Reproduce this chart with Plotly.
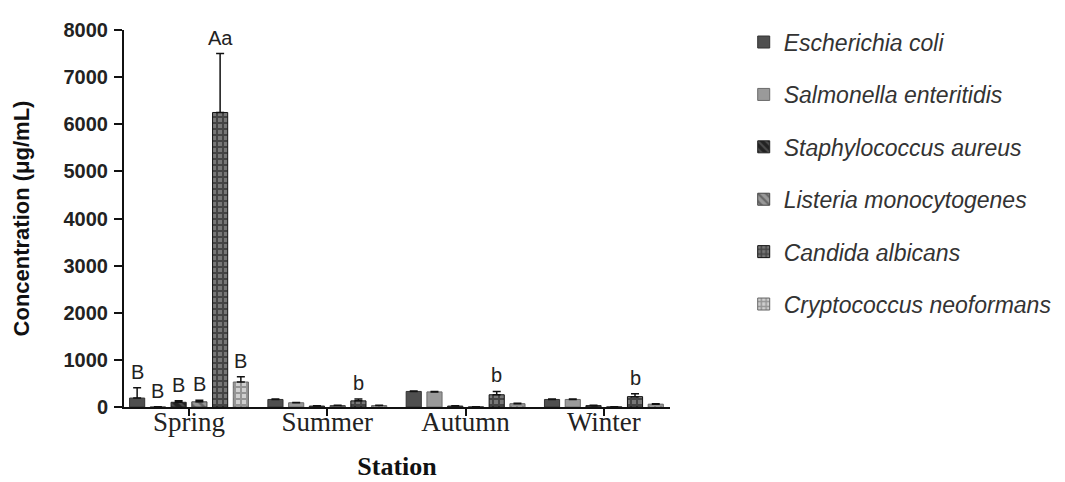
import plotly.graph_objects as go

stations = ["Spring", "Summer", "Autumn", "Winter"]
species = ["Escherichia coli", "Salmonella enteritidis", "Staphylococcus aureus",
           "Listeria monocytogenes", "Candida albicans", "Cryptococcus neoformans"]

ecoli = [190, 160, 330, 160]
salmonella = [5, 90, 320, 160]
staph = [100, 20, 20, 30]
listeria = [110, 30, 5, 5]
candida = [6250, 130, 260, 220]
crypto = [530, 30, 70, 60]

ecoli_err = [220, 10, 10, 10]
salmonella_err = [0, 5, 10, 10]
staph_err = [30, 5, 5, 5]
listeria_err = [35, 5, 0, 0]
candida_err = [1250, 40, 70, 60]
crypto_err = [110, 5, 10, 10]

labels = {
    "Escherichia coli": ["B", "", "", ""],
    "Salmonella enteritidis": ["B", "", "", ""],
    "Staphylococcus aureus": ["B", "", "", ""],
    "Listeria monocytogenes": ["B", "", "", ""],
    "Candida albicans": ["Aa", "b", "b", "b"],
    "Cryptococcus neoformans": ["B", "", "", ""],
}

values = [ecoli, salmonella, staph, listeria, candida, crypto]
errors = [ecoli_err, salmonella_err, staph_err, listeria_err, candida_err, crypto_err]

styles = [
    dict(color="#4f4f4f", line="#333333", pattern=None),
    dict(color="#9a9a9a", line="#6a6a6a", pattern=None),
    dict(color="#222222", line="#222222", pattern=dict(shape="\\", bgcolor="#222222", fgcolor="#777777", size=7, solidity=0.35)),
    dict(color="#555555", line="#444444", pattern=dict(shape="\\", bgcolor="#999999", fgcolor="#333333", size=7, solidity=0.4)),
    dict(color="#111111", line="#111111", pattern=dict(shape="+", bgcolor="#777777", fgcolor="#111111", size=6, solidity=0.55)),
    dict(color="#888888", line="#666666", pattern=dict(shape="+", bgcolor="#d0d0d0", fgcolor="#5a5a5a", size=6, solidity=0.55)),
]

bargap = 0.1
n = len(species)
xs = list(range(len(stations)))

fig = go.Figure()
for j, (name, vals, errs, st) in enumerate(zip(species, values, errors, styles)):
    marker = dict(color=st["color"], line=dict(color=st["line"], width=1))
    if st["pattern"]:
        marker["pattern"] = st["pattern"]
    fig.add_trace(go.Bar(
        x=xs, y=vals, name=name, legendgroup=name, marker=marker,
        error_y=dict(type="data", array=errs, arrayminus=[0] * len(errs),
                     symmetric=False, color="#111111", thickness=1.5, width=4),
    ))
    off = (j - (n - 1) / 2) * (1 - bargap) / n
    for i, lab in enumerate(labels[name]):
        if lab:
            fig.add_annotation(x=xs[i] + off, y=vals[i] + errs[i], text=lab,
                               xref="x", yref="y", showarrow=False,
                               yanchor="bottom", yshift=3,
                               font=dict(family="Liberation Sans, Arial", size=20, color="#222222"))

fig.update_layout(
    width=1065, height=482,
    margin=dict(l=116, r=403, t=22, b=83, autoexpand=False),
    paper_bgcolor="white", plot_bgcolor="white",
    barmode="group", bargap=bargap, bargroupgap=0.27,
    showlegend=True,
    legend=dict(x=1.135, y=1.025, xanchor="left", yanchor="top", maxheight=470,
                font=dict(family="Liberation Sans, Arial", size=23, color="#333333", style="italic"),
                traceorder="grouped", tracegroupgap=19.5, bgcolor="rgba(0,0,0,0)"),
    xaxis=dict(
        tickmode="array", tickvals=xs, ticktext=stations,
        range=[-0.47, 3.478], showline=True, linecolor="#111111", linewidth=2,
        ticks="outside", ticklen=7, tickwidth=2, tickcolor="#111111",
        tickfont=dict(family="Liberation Serif, Times New Roman", size=27, color="#222222"),
        ticklabelstandoff=-17,
        title=dict(text="Station", standoff=20,
                   font=dict(family="Liberation Serif, Times New Roman", size=26, color="#111111", weight="bold")),
        showgrid=False, zeroline=False, automargin=False,
    ),
    yaxis=dict(
        range=[0, 8000], tickvals=list(range(0, 8001, 1000)),
        showline=True, linecolor="#111111", linewidth=2,
        ticks="outside", ticklen=8, tickwidth=2, tickcolor="#111111",
        tickfont=dict(family="Liberation Sans, Arial", size=20, color="#222222", weight="bold"),
        ticklabelstandoff=2,
        title=dict(text="Concentration (μg/mL)", standoff=28,
                   font=dict(family="Liberation Sans, Arial", size=22, color="#111111", weight="bold")),
        showgrid=False, zeroline=False, automargin=False,
    ),
)

fig.write_html("out.html")
